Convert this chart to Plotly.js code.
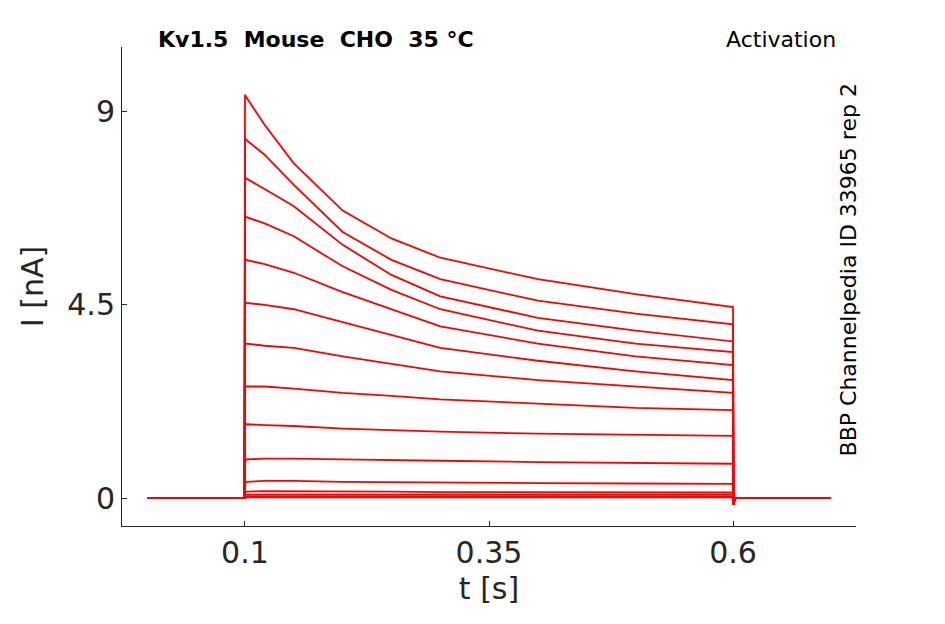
<!DOCTYPE html>
<html>
<head>
<script src="https://cdn.plot.ly/plotly-3.0.1.min.js"></script>
<style>body{margin:0;background:#fff}</style>
</head>
<body>
<div id="chart" style="width:945px;height:624px"></div>
<script>
// Sample times (s) of the voltage-step recordings
const times = [0, 0.0995, 0.1, 0.101, 0.12, 0.15, 0.2, 0.25, 0.3, 0.4, 0.5, 0.6, 0.6005, 0.602, 0.7];

// Current traces (nA), values during the step
const steps = [
  [9.4, 9.35, 8.7, 7.8, 6.7, 6.05, 5.6, 5.1, 4.75, 4.45],
  [8.4, 8.35, 8.0, 7.3, 6.2, 5.55, 5.1, 4.6, 4.3, 4.05],
  [7.5, 7.45, 7.2, 6.8, 5.9, 5.2, 4.7, 4.2, 3.9, 3.65],
  [6.6, 6.55, 6.4, 6.1, 5.4, 4.85, 4.4, 3.9, 3.6, 3.4],
  [5.6, 5.55, 5.45, 5.25, 4.8, 4.4, 4.0, 3.6, 3.3, 3.1],
  [4.6, 4.55, 4.5, 4.4, 4.1, 3.8, 3.5, 3.2, 2.95, 2.75],
  [3.6, 3.6, 3.55, 3.5, 3.3, 3.12, 2.95, 2.75, 2.6, 2.45],
  [2.6, 2.6, 2.6, 2.55, 2.45, 2.38, 2.3, 2.2, 2.1, 2.05],
  [1.7, 1.72, 1.7, 1.68, 1.62, 1.58, 1.55, 1.5, 1.47, 1.45],
  [0.8, 0.9, 0.92, 0.92, 0.9, 0.88, 0.87, 0.84, 0.82, 0.8],
  [0.3, 0.38, 0.4, 0.4, 0.38, 0.37, 0.36, 0.35, 0.34, 0.33],
  [0.12, 0.15, 0.16, 0.16, 0.15, 0.15, 0.14, 0.14, 0.13, 0.13],
  [0.08, 0.08, 0.08, 0.08, 0.08, 0.08, 0.08, 0.08, 0.08, 0.08],
  [0.04, 0.04, 0.04, 0.04, 0.04, 0.04, 0.04, 0.04, 0.04, 0.04],
  [0.02, 0.02, 0.02, 0.02, 0.02, 0.02, 0.02, 0.02, 0.02, 0.02],
];
const before = [0, 0];
const after = [-0.15, 0, 0];

const xTicks = [0.1, 0.35, 0.6];
const yTicks = [0, 4.5, 9];

const data = steps.map(s => ({
  x: times,
  y: before.concat(s, after),
  mode: 'lines',
  line: { color: '#ff0000', width: 1.8 },
  hoverinfo: 'skip',
}));

const layout = {
  width: 945,
  height: 624,
  margin: { l: 122, r: 89, t: 47, b: 98 },
  showlegend: false,
  plot_bgcolor: '#fff',
  paper_bgcolor: '#fff',
  font: { family: 'DejaVu Sans', color: '#262626' },
  xaxis: {
    range: [-0.026, 0.726],
    tickvals: xTicks,
    ticktext: xTicks.map(String),
    tickfont: { size: 30 },
    showgrid: false, zeroline: false,
    showline: true, linecolor: '#262626', linewidth: 1,
    ticks: 'inside', ticklen: 5, tickcolor: '#262626',
    title: { text: 't [s]', font: { size: 30 }, standoff: 8 },
  },
  yaxis: {
    range: [-0.65, 10.51],
    tickvals: yTicks,
    ticktext: yTicks.map(String),
    tickfont: { size: 30 },
    showgrid: false, zeroline: false,
    showline: true, linecolor: '#262626', linewidth: 1,
    ticks: 'inside', ticklen: 5, tickcolor: '#262626',
    title: { text: 'I [nA]', font: { size: 30 }, standoff: 14 },
  },
  annotations: [
    { text: '<b>Kv1.5  Mouse  CHO  35 °C</b>', xref: 'paper', yref: 'paper',
      x: 0.047, y: 0.985, xanchor: 'left', yanchor: 'bottom', showarrow: false,
      font: { size: 22, color: '#000' } },
    { text: 'Activation', xref: 'paper', yref: 'paper',
      x: 0.975, y: 0.985, xanchor: 'right', yanchor: 'bottom', showarrow: false,
      font: { size: 22, color: '#000' } },
    { text: 'BBP Channelpedia ID 33965 rep 2', xref: 'paper', yref: 'paper',
      x: 0.99, y: 0.535, xanchor: 'center', yanchor: 'middle', showarrow: false,
      textangle: -90, font: { size: 22, color: '#000' } },
  ],
};

Plotly.newPlot('chart', data, layout, { staticPlot: true });
</script>
</body>
</html>
